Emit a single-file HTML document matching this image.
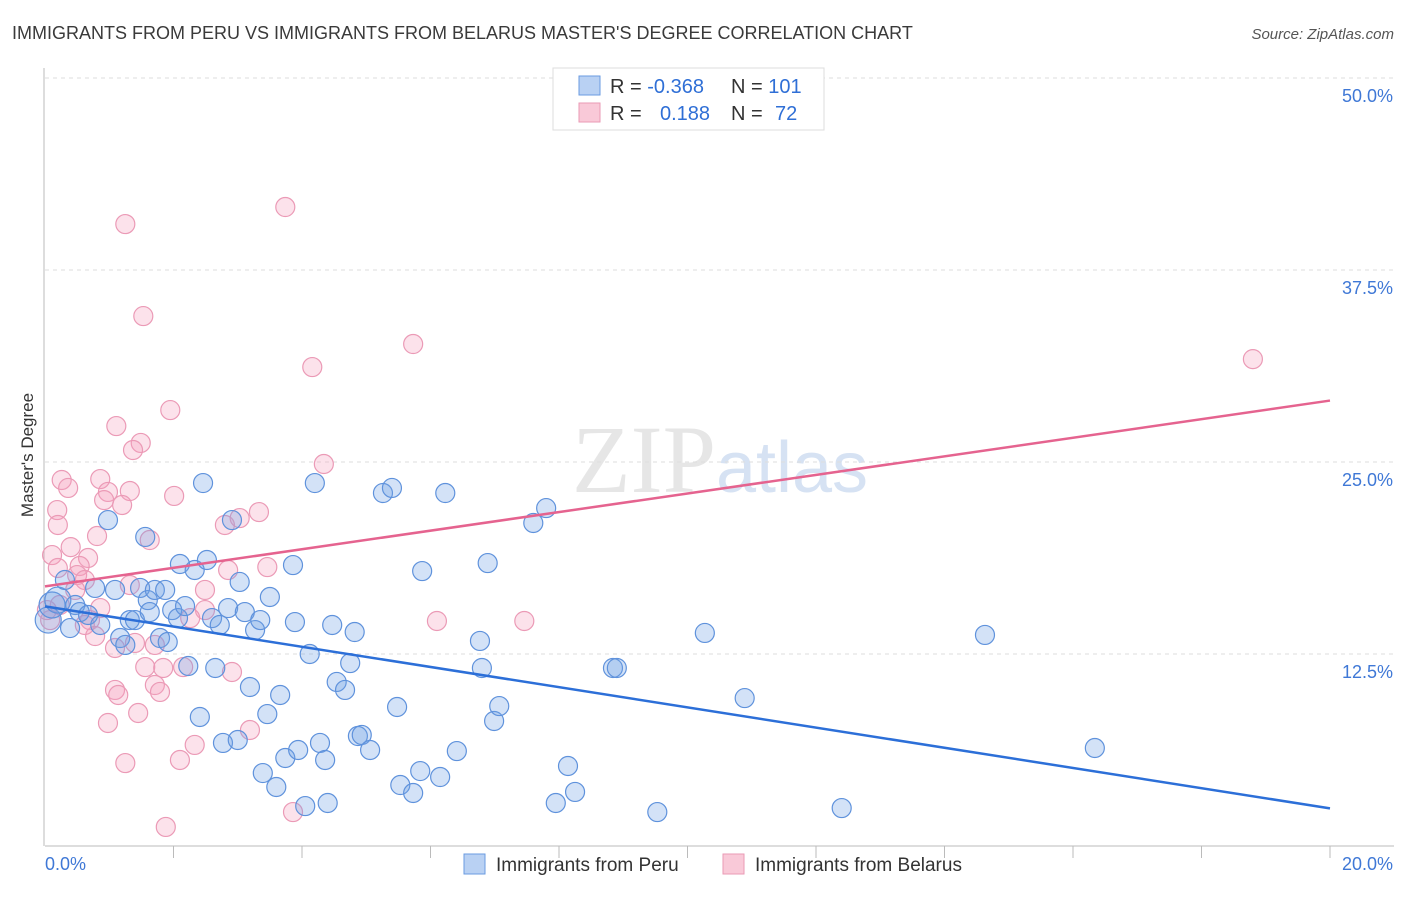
<!DOCTYPE html>
<html><head><meta charset="utf-8"><style>
body{margin:0;background:#fff;font-family:"Liberation Sans",sans-serif;}
</style></head><body>
<svg id="chart" width="1406" height="892" xmlns="http://www.w3.org/2000/svg" font-family="Liberation Sans, sans-serif">
<text x="12" y="39" font-size="18" fill="#3a3a3a">IMMIGRANTS FROM PERU VS IMMIGRANTS FROM BELARUS MASTER'S DEGREE CORRELATION CHART</text>
<text x="1394" y="39" font-size="15" fill="#555" font-style="italic" text-anchor="end">Source: ZipAtlas.com</text>
<text x="720" y="492" font-size="96" fill="#e6e6e6" text-anchor="middle" font-family="Liberation Serif, serif">ZIP<tspan fill="#d6e2f3" font-family="Liberation Sans, sans-serif" font-size="72">atlas</tspan></text>
<g id="grid"></g>
<g id="axes"></g>
<text transform="translate(33,455) rotate(-90)" font-size="17" fill="#333" text-anchor="middle">Master's Degree</text>
<g id="marks"></g>
<g id="lines"></g>
<g>
<rect x="553" y="68" width="271" height="62" fill="#fff" stroke="#ddd"/>
<rect x="579" y="76" width="21" height="19" fill="#b9d1f3" stroke="#6a9be0"/>
<rect x="579" y="103" width="21" height="19" fill="#f9c9d8" stroke="#ea9ab5"/>
<text x="610" y="93" font-size="20" fill="#333">R = <tspan fill="#2f6fd6">-0.368</tspan><tspan x="731">N = </tspan><tspan fill="#2f6fd6">101</tspan></text>
<text x="610" y="120" font-size="20" fill="#333">R = <tspan x="660" fill="#2f6fd6">0.188</tspan><tspan x="731">N = </tspan><tspan x="775" fill="#2f6fd6">72</tspan></text>
</g>
<g>
<rect x="464" y="854" width="21" height="20" fill="#b9d1f3" stroke="#6a9be0"/>
<text x="496" y="871" font-size="19" fill="#333">Immigrants from Peru</text>
<rect x="723" y="854" width="21" height="20" fill="#f9c9d8" stroke="#ea9ab5"/>
<text x="755" y="871" font-size="19" fill="#333">Immigrants from Belarus</text>
</g>
</svg>
<script>
const yTicks=[12.5,25,37.5,50];
const yTickLabels=["12.5%","25.0%","37.5%","50.0%"];
const xTickLabels=["0.0%","20.0%"];
const peruX=[0.05,0.11,0.20,0.31,0.39,0.47,0.54,0.67,0.78,0.86,0.98,1.09,1.17,1.25,1.32,1.40,1.48,1.56,1.60,1.63,1.71,1.79,1.87,1.91,1.98,2.07,2.10,2.18,2.23,2.33,2.41,2.46,2.52,2.60,2.65,2.72,2.77,2.85,2.91,3.00,3.03,3.11,3.19,3.27,3.35,3.39,3.46,3.50,3.60,3.66,3.74,3.86,3.89,3.94,4.05,4.12,4.20,4.28,4.36,4.40,4.47,4.54,4.67,4.75,4.82,4.87,4.93,5.06,5.26,5.40,5.48,5.53,5.73,5.84,5.87,6.15,6.23,6.41,6.77,6.80,6.89,6.99,7.07,7.60,7.80,7.95,8.14,8.25,8.84,8.90,9.53,10.27,10.89,12.40,14.63,16.34];
const peruY=[14.71,15.69,16.01,17.32,14.19,15.69,15.23,15.04,16.80,14.39,21.22,16.67,13.54,13.09,14.71,14.71,16.80,20.12,16.01,15.23,16.67,13.54,16.67,13.28,15.36,14.84,18.36,15.62,11.72,17.97,8.40,23.63,18.62,14.84,11.59,14.39,6.71,15.49,21.22,6.90,17.19,15.23,10.35,14.06,14.71,4.75,8.59,16.21,3.84,9.83,5.73,18.29,14.58,6.25,2.60,12.50,23.63,6.71,5.60,2.80,14.39,10.68,10.16,11.91,13.93,7.16,7.23,6.25,22.98,23.31,9.05,3.97,3.45,4.88,17.90,4.49,22.98,6.18,13.35,11.59,18.42,8.14,9.11,21.03,22.00,2.80,5.21,3.52,11.59,11.59,2.21,13.87,9.63,2.47,13.74,6.38];
const belX=[1.25,3.74,1.53,5.73,4.16,18.80,1.95,1.11,1.49,1.37,4.34,0.26,0.36,0.86,0.98,1.32,0.92,1.20,2.01,3.33,3.03,2.80,0.19,0.20,1.63,0.81,0.40,0.11,0.67,0.20,0.54,0.50,2.85,3.46,0.62,1.32,2.49,0.47,0.23,0.86,2.49,0.70,2.26,0.78,1.09,1.40,1.71,6.10,7.46,1.56,1.84,2.15,2.91,1.71,1.79,1.09,1.14,0.98,1.45,3.19,2.33,2.10,1.25,1.88,3.86,0.08,0.03,0.62];
const belY=[40.49,41.60,34.50,32.68,31.18,31.70,28.38,27.34,26.24,25.78,24.87,23.83,23.31,23.89,23.05,23.11,22.52,22.20,22.79,21.74,21.35,20.90,21.87,20.90,19.92,20.18,19.46,18.94,18.75,18.10,18.23,17.64,17.97,18.16,17.32,16.99,16.67,16.67,15.69,15.49,15.36,14.71,14.84,13.67,12.89,13.22,13.09,14.65,14.65,11.65,11.59,11.65,11.33,10.48,10.03,10.16,9.83,8.01,8.66,7.55,6.58,5.60,5.40,1.24,2.21,14.71,15.36,14.39];
const peruTrend=[15.6,2.45];
const belTrend=[16.9,29.0];
const NS="http://www.w3.org/2000/svg";
const X0=45,X1=1330,Y0=846,Y1=78;
function sx(v){return X0+(v/20)*(X1-X0);}
function sy(v){return Y0-(v/50)*(Y0-Y1);}
function mk(tag,attrs,parent){const e=document.createElementNS(NS,tag);for(const k in attrs)e.setAttribute(k,attrs[k]);parent.appendChild(e);return e;}
const grid=document.getElementById('grid'),axes=document.getElementById('axes'),marks=document.getElementById('marks'),lines=document.getElementById('lines');
yTicks.forEach((t,i)=>{
 const l=mk('line',{x1:X0,x2:1394,y1:sy(t),y2:sy(t),stroke:'#ddd','stroke-dasharray':'4,4'},grid);
 
 
 const tx=mk('text',{x:1393,y:sy(t)+24,'font-size':18,fill:'#3f78d6','text-anchor':'end'},axes);
 tx.textContent=yTickLabels[i];
 
 
});
const ya=mk('line',{x1:X0-1,x2:X0-1,y1:68,y2:Y0,stroke:'#bbb'},axes);


const xa=mk('line',{x1:X0,x2:1394,y1:Y0,y2:Y0,stroke:'#bbb'},axes);


for(let k=1;k<=10;k++){const xx=sx(k*2);const t=mk('line',{x1:xx,x2:xx,y1:Y0,y2:Y0+12,stroke:'#bbb'},axes);
 
 }
const xl0=mk('text',{x:45,y:870,'font-size':18,fill:'#3f78d6'},axes);xl0.textContent=xTickLabels[0];


const xl1=mk('text',{x:1393,y:870,'font-size':18,fill:'#3f78d6','text-anchor':'end'},axes);xl1.textContent=xTickLabels[1];


belX.forEach((v,i)=>{const c=mk('circle',{cx:sx(v),cy:sy(belY[i]),r:9.5,fill:'rgba(244,160,188,0.3)',stroke:'#eb9ab6','stroke-width':1.2},marks);
 
 });
peruX.forEach((v,i)=>{const c=mk('circle',{cx:sx(v),cy:sy(peruY[i]),r:i<3?13:9.5,fill:'rgba(110,160,230,0.3)',stroke:'#5f92dc','stroke-width':1.2},marks);
 
 });
const lp=mk('line',{x1:sx(0),y1:sy(peruTrend[0]),x2:sx(20),y2:sy(peruTrend[1]),stroke:'#2c6fd8','stroke-width':2.5},lines);


const lb=mk('line',{x1:sx(0),y1:sy(belTrend[0]),x2:sx(20),y2:sy(belTrend[1]),stroke:'#e5638f','stroke-width':2.5},lines);


</script>
</body></html>
